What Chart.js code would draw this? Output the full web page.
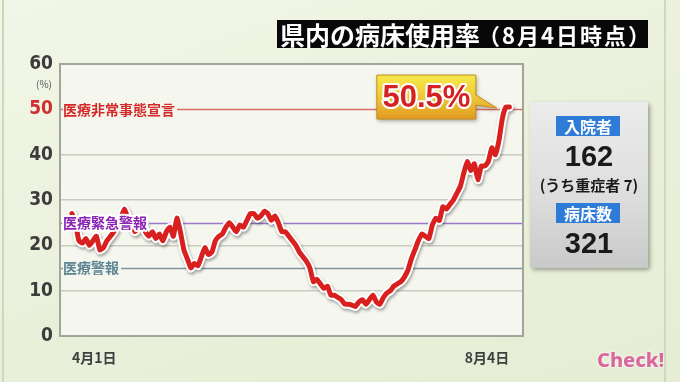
<!DOCTYPE html>
<html>
<head>
<meta charset="utf-8">
<script src="https://cdn.jsdelivr.net/npm/chart.js@4/dist/chart.umd.min.js"></script>
<style>
  html,body{margin:0;padding:0}
  body{width:680px;height:382px;overflow:hidden;position:relative;
    background:linear-gradient(160deg,#f2f6e8 0%,#e9f0da 55%,#e5eed4 100%);
    font-family:"Noto Sans CJK JP","Noto Sans",sans-serif}
  #c{position:absolute;left:0;top:0}
  #edgeL{position:absolute;left:2px;top:0;width:2px;height:382px;background:#cdd8bb}
  #edgeR{position:absolute;left:664px;top:0;width:2px;height:382px;background:#cfd9bf}
  #title{position:absolute;left:277px;top:20px;width:371px;height:28px;background:#080808;color:#fff;
    font-weight:700;white-space:nowrap;line-height:28px;padding-left:0}
  #title .big{font-size:25px;vertical-align:top;display:inline-block;line-height:28px;margin-left:3px}
  #title .small{font-size:22px;vertical-align:top;display:inline-block;line-height:29px;margin-left:-2px;letter-spacing:2px}
  #panel{position:absolute;left:530px;top:102px;width:118px;height:166px;
    background:linear-gradient(180deg,#ececec 0%,#dcdcdc 60%,#c9c9c9 100%);
    box-shadow:2px 2px 4px rgba(0,0,0,0.35);border-radius:2px}
  #panel .tag{position:absolute;left:26px;width:64px;height:20px;background:#2e7bd8;color:#fff;
    font-size:16px;font-weight:700;text-align:center;line-height:20px}
  #panel .num{position:absolute;left:0;width:118px;text-align:center;font-family:"Liberation Sans",Arial,sans-serif;
    font-weight:700;font-size:29px;line-height:32px;color:#1a1a1a}
  #panel .sub{position:absolute;left:0;width:118px;text-align:center;font-size:15px;font-weight:700;line-height:20px;color:#1a1a1a;white-space:nowrap}
  #check{position:absolute;left:597px;top:346px;font-family:"Noto Sans","Open Sans",sans-serif;font-weight:800;font-size:20px;
    color:#d9689c;text-shadow:0 0 2px #fff,0 0 2px #fff}
</style>
</head>
<body>
<div id="edgeL"></div>
<div id="edgeR"></div>
<canvas id="c" width="680" height="382"></canvas>
<div id="title"><span class="big">県内の病床使用率</span><span class="small">（8月4日時点）</span></div>
<div id="panel">
  <div class="tag" style="top:14px">入院者</div>
  <div class="num" id="admitted" style="top:38px"></div>
  <div class="sub" id="severe" style="top:73px"></div>
  <div class="tag" style="top:101px">病床数</div>
  <div class="num" id="beds" style="top:125px"></div>
</div>
<div id="check">Check!</div>
<script>
// ---- data ----
const dateLabels = ['4月1日', '8月4日'];
const dayCount = 126; // 4/1 .. 8/4
const occupancy = [
  27, 25, 21, 20.5, 21.5, 20, 21, 22, 19, 19.5,
  21, 22, 23, 24.5, 26, 28, 26, 25, 23, 24,
  25.5, 23, 22, 23, 21.5, 22.5, 21, 23, 24, 22,
  26, 23, 19, 17, 15, 16, 15.5, 17.5, 19.5, 18,
  18.5, 21, 22, 22.5, 24, 25, 24, 23, 24.5, 24,
  25.5, 27, 27, 26, 26.5, 27.5, 27, 25.5, 26.5, 25,
  23, 23, 22, 21, 20, 18.5, 17.5, 16.5, 15, 12,
  12.5, 11.5, 10.5, 11, 9, 9, 8.5, 8, 7, 7,
  6.8, 6.5, 7.5, 8, 7, 8, 9, 7.5, 7, 8.5,
  9.5, 10, 11, 11.5, 12, 13, 14.5, 17, 19, 21,
  22.5, 22, 21.5, 24.5, 26, 25.5, 28.5, 28, 29, 30,
  31.5, 33, 36, 38.5, 36.5, 38, 34.5, 37.5, 37.5, 38.5,
  41.5, 40, 43, 48, 50.5, 50.5
];
const yTickLabels = [0, 10, 15, 20, 25, 30, 40, 50, 60];
const thresholdValues = [50, 25, 15];
const thresholdNames = ['医療非常事態宣言', '医療緊急警報', '医療警報'];
const admitted = 162;
const severe = 7;
const beds = 321;

// ---- styles ----
const thrStyles = [
  {line:'#e06a6a', text:'#d42a2a', tick:'#cf3030', halo:false},
  {line:'#9d78c9', text:'#8a24b4', tick:'#8a2fb0', halo:true},
  {line:'#7f959c', text:'#5b8593', tick:'#3c3c3c', halo:false}
];
const jpFont = '"Noto Sans CJK JP","Noto Sans",sans-serif';
const numFont = '"Liberation Sans Narrow","DejaVu Sans Condensed","Liberation Sans",sans-serif';

document.getElementById('admitted').textContent = admitted;
document.getElementById('severe').textContent = '(うち重症者 ' + severe + ')';
document.getElementById('beds').textContent = beds;

const points = occupancy.map((v, i) => ({x: i, y: v}));

const deco = {
  id: 'deco',
  beforeDraw(chart) {
    const {ctx, chartArea: a} = chart;
    ctx.save();
    ctx.fillStyle = '#f5f7ef';
    ctx.fillRect(a.left, a.top, a.right - a.left, a.bottom - a.top);
    ctx.restore();
  },
  beforeDatasetsDraw(chart) {
    const {ctx, chartArea: a, scales: {y}} = chart;
    ctx.save();
    ctx.font = 'bold 14px ' + jpFont;
    thresholdValues.forEach((v, i) => {
      const py = Math.round(y.getPixelForValue(v)) + 0.5;
      const w = ctx.measureText(thresholdNames[i]).width;
      ctx.strokeStyle = thrStyles[i].line;
      ctx.lineWidth = 1.5;
      ctx.beginPath();
      ctx.moveTo(a.left, py); ctx.lineTo(a.left + 3, py);
      ctx.moveTo(a.left + 5 + w, py); ctx.lineTo(a.right, py);
      ctx.stroke();
    });
    ctx.strokeStyle = '#a3a59b';
    ctx.lineWidth = 2;
    ctx.strokeRect(a.left, a.top, a.right - a.left, a.bottom - a.top);
    // (%) unit
    ctx.fillStyle = '#555';
    ctx.font = '10px ' + jpFont;
    ctx.textAlign = 'center';
    ctx.textBaseline = 'middle';
    ctx.fillText('(%)', a.left - 16, y.getPixelForValue(60) + 20);
    ctx.restore();
  },
  beforeDatasetDraw(chart, args) {
    if (args.index === 1) {
      chart.ctx.save();
      chart.ctx.shadowColor = 'rgba(0,0,0,0.35)';
      chart.ctx.shadowBlur = 3;
      chart.ctx.shadowOffsetX = 1;
      chart.ctx.shadowOffsetY = 2;
    }
  },
  afterDatasetDraw(chart, args) {
    if (args.index === 1) chart.ctx.restore();
  },
  afterDatasetsDraw(chart) {
    const {ctx, chartArea: a, scales: {y}} = chart;
    ctx.save();
    ctx.font = 'bold 14px ' + jpFont;
    ctx.textBaseline = 'middle';
    ctx.textAlign = 'left';
    thresholdValues.forEach((v, i) => {
      const py = y.getPixelForValue(v);
      if (thrStyles[i].halo) {
        ctx.strokeStyle = 'rgba(255,255,255,0.95)';
        ctx.lineWidth = 4;
        ctx.lineJoin = 'round';
        ctx.strokeText(thresholdNames[i], a.left + 3, py);
      }
      ctx.fillStyle = thrStyles[i].text;
      ctx.fillText(thresholdNames[i], a.left + 3, py);
    });
    // callout for last value
    const meta = chart.getDatasetMeta(0);
    const lastPt = meta.data[meta.data.length - 1];
    const prevPt = meta.data[meta.data.length - 2];
    const tipX = prevPt.x - 9, tipY = lastPt.y + 1;
    const bx1 = tipX - 21, bx0 = bx1 - 99, by0 = tipY - 33, by1 = tipY + 11;
    ctx.shadowColor = 'rgba(0,0,0,0.35)';
    ctx.shadowBlur = 4; ctx.shadowOffsetX = 1; ctx.shadowOffsetY = 2;
    const g = ctx.createLinearGradient(0, by0, 0, by1);
    g.addColorStop(0, '#f6ea4a');
    g.addColorStop(0.5, '#eec83a');
    g.addColorStop(1, '#e09a22');
    ctx.fillStyle = g;
    ctx.beginPath();
    ctx.moveTo(bx0, by0); ctx.lineTo(bx1, by0); ctx.lineTo(bx1, tipY - 13);
    ctx.lineTo(tipX, tipY); ctx.lineTo(bx1, tipY - 3);
    ctx.lineTo(bx1, by1); ctx.lineTo(bx0, by1); ctx.closePath();
    ctx.fill();
    ctx.shadowColor = 'transparent';
    ctx.strokeStyle = '#c58c1c'; ctx.lineWidth = 1;
    ctx.stroke();
    const lastVal = occupancy[occupancy.length - 1];
    const txt = lastVal.toFixed(1) + '%';
    ctx.font = 'bold 31px "Liberation Sans","Noto Sans",sans-serif';
    ctx.textAlign = 'center';
    ctx.textBaseline = 'middle';
    ctx.lineWidth = 4; ctx.strokeStyle = '#fff'; ctx.lineJoin = 'round';
    ctx.strokeText(txt, (bx0 + bx1) / 2, (by0 + by1) / 2 + 1);
    ctx.fillStyle = '#d42222';
    ctx.fillText(txt, (bx0 + bx1) / 2, (by0 + by1) / 2 + 1);
    ctx.restore();
  }
};

new Chart(document.getElementById('c'), {
  type: 'line',
  data: {
    datasets: [
      {data: points, borderColor: '#d8201f', borderWidth: 5, pointRadius: 0, tension: 0.15,
       borderJoinStyle: 'round', borderCapStyle: 'round'},
      {data: points, borderColor: '#ffffff', borderWidth: 9, pointRadius: 0, tension: 0.15,
       borderJoinStyle: 'round', borderCapStyle: 'round'}
    ]
  },
  options: {
    responsive: false,
    animation: false,
    devicePixelRatio: 1,
    layout: {padding: {top: 64, right: 157, left: 0, bottom: 0}},
    plugins: {legend: {display: false}, tooltip: {enabled: false}},
    scales: {
      x: {
        type: 'linear', min: -3.4, max: 128.9,
        afterFit(s) { s.height = 46; },
        afterBuildTicks(s) { s.ticks = [{value: 0}, {value: dayCount - 1}]; },
        grid: {display: false},
        border: {display: false},
        ticks: {
          autoSkip: false, maxRotation: 0, align: 'inner', padding: 5,
          color: '#3f3f3f', font: {family: jpFont, size: 14, weight: 'bold'},
          callback: (v) => v === 0 ? dateLabels[0] : dateLabels[1]
        }
      },
      y: {
        min: 0, max: 60,
        afterFit(s) { s.width = 60; },
        afterBuildTicks(s) {
          const t = [];
          for (let v = 0; v <= 60; v += 5) t.push({value: v});
          s.ticks = t;
        },
        border: {display: false},
        grid: {
          drawTicks: false, lineWidth: 1.5,
          color: (c) => thresholdValues.includes(c.tick.value) ? 'rgba(0,0,0,0)' : '#c8cbbd'
        },
        ticks: {
          padding: 7,
          font: {family: numFont, size: 19, weight: 'bold'},
          color: (c) => {
            const i = thresholdValues.indexOf(c.tick.value);
            return i >= 0 ? thrStyles[i].tick : '#3c3c3c';
          },
          callback: (v) => yTickLabels.includes(v) ? String(v) : ''
        }
      }
    }
  },
  plugins: [deco]
});
</script>
</body>
</html>
